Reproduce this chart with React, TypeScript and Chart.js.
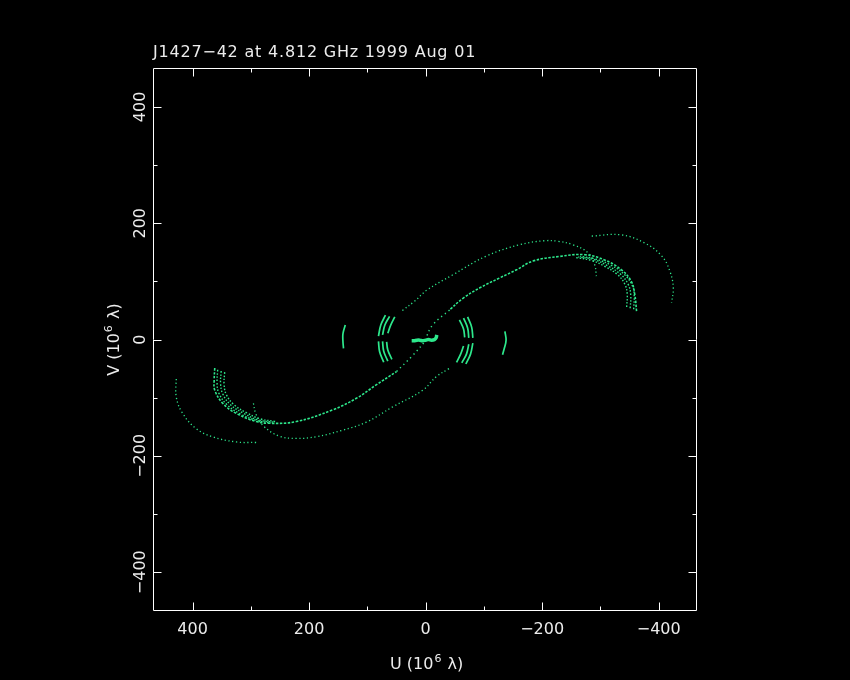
import React, { useEffect, useRef } from "react";
import { Chart, registerables } from "chart.js";

Chart.register(...registerables);

// ---- text ----
const TITLE = "J1427\u221242 at 4.812 GHz 1999 Aug 01";
const X_TITLE = ["U (10", "6", " \u03bb)"];
const Y_TITLE = ["V (10", "6", " \u03bb)"];

// ---- axes ----
const U_MIN = -464;
const U_MAX = 468;
const V_MIN = -465;
const V_MAX = 467;
const majorTicks = [-400, -200, 0, 200, 400];
const minorTicks = [-300, -100, 100, 300];

// ---- uv tracks [u, v] (10^6 lambda) ----
// main bright S track (outer bright part + sparse inner part near the origin)
const sLower: [number, number][] = [[362, -49], [363, -70], [362, -87], [348, -110], [325, -127], [291, -141], [268, -144], [222, -141], [160, -121], [119, -101], [85, -78], [50, -55]];
const sLowerInner: [number, number][] = [[50, -55], [22, -27], [0, -2]];
const sUpper: [number, number][] = [[-362, 49], [-359, 77], [-353, 100], [-336, 120], [-307, 137], [-273, 146], [-230, 143], [-184, 135], [-156, 120], [-127, 106], [-93, 89], [-64, 71], [-41, 51]];
const sUpperInner: [number, number][] = [[-41, 51], [-12, 25], [0, 2]];
// bundle arcs next to the S ends
const b2Lower: [number, number][] = [[357, -52], [358, -75], [355, -92], [341, -112], [318, -128], [290, -139], [265, -143]];
const b3Lower: [number, number][] = [[351, -54], [352, -76], [348, -94], [335, -112], [312, -127], [288, -138], [262, -142]];
const b4Lower: [number, number][] = [[345, -56], [346, -77], [342, -95], [329, -112], [307, -126], [285, -136], [258, -141]];
const b2Upper: [number, number][] = [[-357, 52], [-358, 75], [-355, 92], [-341, 112], [-318, 128], [-290, 139], [-265, 143]];
const b3Upper: [number, number][] = [[-351, 54], [-352, 76], [-348, 94], [-335, 112], [-312, 127], [-288, 138], [-262, 142]];
const b4Upper: [number, number][] = [[-345, 56], [-346, 77], [-342, 95], [-329, 112], [-307, 126], [-285, 136], [-258, 141]];
// dim outer arcs
const aUpper: [number, number][] = [[-285, 178], [-336, 180], [-376, 166], [-405, 144], [-419, 118], [-425, 89], [-422, 63]];
const aLower: [number, number][] = [[291, -177], [325, -176], [366, -167], [394, -153], [417, -127], [428, -99], [428, -64]];
// dim S arc
const bUpper: [number, number][] = [[40, 50], [19, 66], [-2, 85], [-46, 111], [-105, 144], [-161, 163], [-204, 170], [-227, 169], [-253, 163], [-279, 149], [-290, 129], [-293, 109]];
const bLower: [number, number][] = [[-40, -50], [-18, -64], [5, -87], [57, -116], [102, -142], [143, -156], [188, -167], [222, -170], [251, -166], [277, -150], [291, -129], [296, -108]];
// short baselines
const farLeft: [number, number][] = [[138, 25], [142, 10], [142, -3], [141, -15]];
const farRight: [number, number][] = [[-136, 14], [-138, -1], [-135, -15], [-132, -26]];
const l1Up: [number, number][] = [[69, 42], [77, 25], [81, 6]];
const l1Lo: [number, number][] = [[81, -3], [79, -21], [72, -39]];
const l2Up: [number, number][] = [[62, 40], [70, 25], [74, 8]];
const l2Lo: [number, number][] = [[74, -3], [72, -20], [65, -37]];
const l3Up: [number, number][] = [[53, 39], [60, 25], [65, 11]];
const l3Lo: [number, number][] = [[67, -4], [65, -18], [58, -34]];
const r1Up: [number, number][] = [[-81, 3], [-79, 21], [-72, 39]];
const r1Lo: [number, number][] = [[-69, -42], [-77, -25], [-81, -6]];
const r2Up: [number, number][] = [[-74, 3], [-72, 20], [-65, 37]];
const r2Lo: [number, number][] = [[-62, -40], [-70, -25], [-74, -8]];
const r3Up: [number, number][] = [[-67, 4], [-65, 18], [-58, 34]];
const r3Lo: [number, number][] = [[-53, -39], [-60, -25], [-65, -11]];
const centre: [number, number][] = [[24, -2], [20, -2], [15, -1], [10, -1], [5, -2], [0, -1], [-5, 0], [-10, -1], [-15, 0], [-18, 3], [-19, 8]];

const GREEN = "rgb(45,232,140)";

const fmt = (v: number) => (v < 0 ? "\u2212" + Math.abs(v) : String(v));

function ds(arr: [number, number][], style: "bright" | "bundle" | "dim" | "sparse" | "solid" | "blob") {
  const base: any = {
    data: arr.map(([u, v]) => ({ x: u, y: v })),
    showLine: true,
    tension: 0.4,
    pointRadius: 0,
    borderColor: GREEN,
    backgroundColor: GREEN,
    fill: false,
  };
  if (style === "bright") { base.borderWidth = 1.6; base.borderDash = [2.5, 1.5]; }
  if (style === "bundle") { base.borderWidth = 1.4; base.borderDash = [1.5, 1.8]; }
  if (style === "dim") { base.borderWidth = 1.3; base.borderDash = [1.2, 2.6]; }
  if (style === "sparse") { base.borderWidth = 1.4; base.borderDash = [1.3, 3.5]; }
  if (style === "solid") { base.borderWidth = 1.7; }
  if (style === "blob") { base.borderWidth = 3.5; }
  return base;
}

const FONT = "16px 'DejaVu Sans'";
const SUP_FONT = "11px 'DejaVu Sans'";
const TEXT = "#ececec";

const framePlugin = {
  id: "pgframe",
  afterDatasetsDraw(chart: any) {
    const { ctx, chartArea: a, scales } = chart;
    const xs = scales.x;
    const ys = scales.y;
    const L = Math.round(a.left) + 0.5, R = Math.round(a.right) + 0.5;
    const T = Math.round(a.top) + 0.5, B = Math.round(a.bottom) + 0.5;
    ctx.save();
    ctx.strokeStyle = "#ffffff";
    ctx.lineWidth = 1;
    ctx.beginPath();
    ctx.rect(L, T, R - L, B - T);
    const tick = (v: number, len: number) => {
      const px = Math.round(xs.getPixelForValue(v)) + 0.5;
      ctx.moveTo(px, B); ctx.lineTo(px, B - len);
      ctx.moveTo(px, T); ctx.lineTo(px, T + len);
      const py = Math.round(ys.getPixelForValue(v)) + 0.5;
      ctx.moveTo(L, py); ctx.lineTo(L + len, py);
      ctx.moveTo(R, py); ctx.lineTo(R - len, py);
    };
    majorTicks.forEach((v) => tick(v, 8));
    minorTicks.forEach((v) => tick(v, 4));
    ctx.stroke();

    ctx.fillStyle = TEXT;
    ctx.font = FONT;
    ctx.textAlign = "center";
    ctx.textBaseline = "alphabetic";
    majorTicks.forEach((v) => {
      ctx.fillText(fmt(v), xs.getPixelForValue(v), a.bottom + 24);
    });
    majorTicks.forEach((v) => {
      ctx.save();
      ctx.translate(a.left - 8, ys.getPixelForValue(v));
      ctx.rotate(-Math.PI / 2);
      ctx.fillText(fmt(v), 0, 0);
      ctx.restore();
    });

    // title
    ctx.textAlign = "left";
    (ctx as any).letterSpacing = "0.8px";
    ctx.fillText(TITLE, a.left, a.top - 11);
    (ctx as any).letterSpacing = "0px";

    const drawSup = (parts: string[], cx: number, cy: number) => {
      ctx.font = FONT;
      const w0 = ctx.measureText(parts[0]).width;
      const w2 = ctx.measureText(parts[2]).width;
      ctx.font = SUP_FONT;
      const w1 = ctx.measureText(parts[1]).width + 2;
      const total = w0 + w1 + w2;
      let x = cx - total / 2;
      ctx.textAlign = "left";
      ctx.font = FONT;
      ctx.fillText(parts[0], x, cy);
      x += w0;
      ctx.font = SUP_FONT;
      ctx.fillText(parts[1], x + 1, cy - 7);
      x += w1;
      ctx.font = FONT;
      ctx.fillText(parts[2], x, cy);
    };
    const cx = xs.getPixelForValue(0);
    drawSup(X_TITLE, cx + 1, a.bottom + 59);
    ctx.save();
    ctx.translate(a.left - 34, ys.getPixelForValue(0));
    ctx.rotate(-Math.PI / 2);
    drawSup(Y_TITLE, 0, 0);
    ctx.restore();
    ctx.restore();
  },
};

export default function App() {
  const ref = useRef<HTMLCanvasElement | null>(null);
  useEffect(() => {
    if (!ref.current) return;
    const datasets = [
      ds(aUpper, "dim"), ds(aLower, "dim"),
      ds(bUpper, "dim"), ds(bLower, "dim"),
      ds(b2Lower, "bundle"), ds(b3Lower, "bundle"), ds(b4Lower, "bundle"),
      ds(b2Upper, "bundle"), ds(b3Upper, "bundle"), ds(b4Upper, "bundle"),
      ds(sLower, "bright"), ds(sUpper, "bright"),
      ds(sLowerInner, "sparse"), ds(sUpperInner, "sparse"),
      ds(farLeft, "solid"), ds(farRight, "solid"),
      ds(l1Up, "solid"), ds(l1Lo, "solid"), ds(l2Up, "solid"), ds(l2Lo, "solid"), ds(l3Up, "solid"), ds(l3Lo, "solid"),
      ds(r1Up, "solid"), ds(r1Lo, "solid"), ds(r2Up, "solid"), ds(r2Lo, "solid"), ds(r3Up, "solid"), ds(r3Lo, "solid"),
      ds(centre, "blob"),
    ];
    const chart = new Chart(ref.current, {
      type: "scatter",
      data: { datasets },
      options: {
        responsive: false,
        animation: false,
        maintainAspectRatio: false,
        layout: { padding: { left: 153, top: 68, right: 154, bottom: 70 } },
        plugins: { legend: { display: false }, tooltip: { enabled: false }, title: { display: false } },
        scales: {
          x: { type: "linear", reverse: true, min: U_MIN, max: U_MAX, display: false },
          y: { type: "linear", min: V_MIN, max: V_MAX, display: false },
        },
      },
      plugins: [framePlugin],
    });
    return () => chart.destroy();
  }, []);
  return (
    <div style={{ position: "fixed", left: 0, top: 0, width: 850, height: 680, background: "#000" }}>
      <canvas ref={ref} width={850} height={680} style={{ display: "block", width: 850, height: 680, background: "#000" }} />
    </div>
  );
}
